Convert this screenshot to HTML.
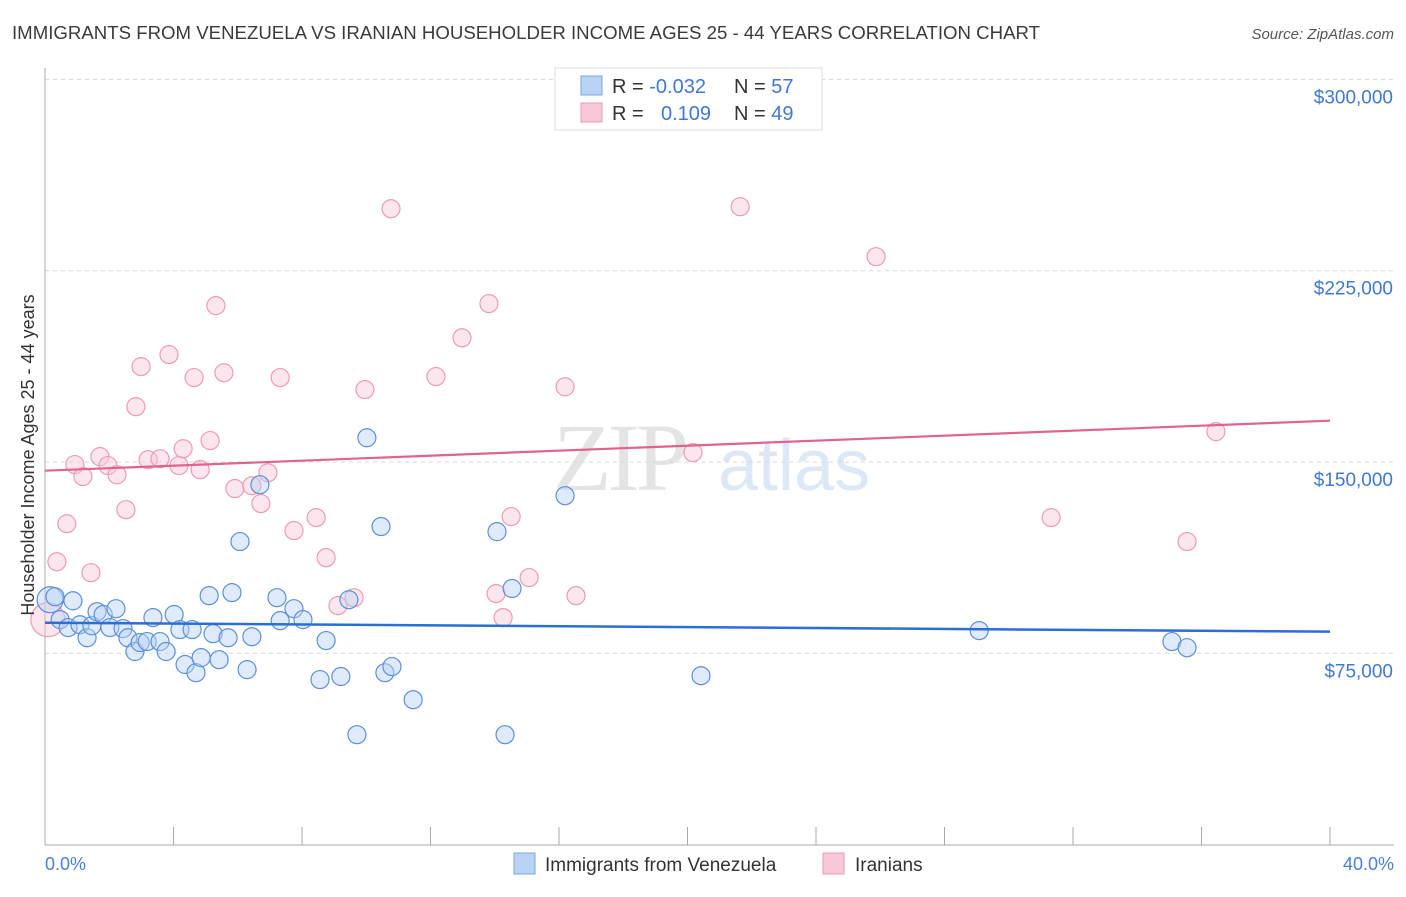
<!DOCTYPE html>
<html><head><meta charset="utf-8"><style>
body{margin:0;background:#fff;font-family:"Liberation Sans",sans-serif;}
</style></head><body>
<svg id="chart" width="1406" height="892" xmlns="http://www.w3.org/2000/svg">
<text x="12" y="39" font-size="18" fill="#3a3a3a" textLength="1028" lengthAdjust="spacingAndGlyphs">IMMIGRANTS FROM VENEZUELA VS IRANIAN HOUSEHOLDER INCOME AGES 25 - 44 YEARS CORRELATION CHART</text>
<text x="1394" y="39" font-size="15" fill="#555" font-style="italic" text-anchor="end">Source: ZipAtlas.com</text>
<g><text x="553" y="490" font-size="96" fill="#e4e4e4" font-family="Liberation Serif,serif" letter-spacing="-4">ZIP</text><text x="718" y="490" font-size="72" fill="#dce8f6">atlas</text></g>
<g id="grid"></g>
<g id="axes"></g>
<g id="marks"></g>
<text transform="translate(34,455) rotate(-90)" font-size="18" fill="#333" text-anchor="middle">Householder Income Ages 25 - 44 years</text>
<text x="45" y="870" font-size="18" fill="#4a7fd6">0.0%</text>
<text x="1394" y="870" font-size="18" fill="#4a7fd6" text-anchor="end">40.0%</text>
<g>
<rect x="555" y="68" width="267" height="62" fill="#fff" stroke="#ddd"/>
<rect x="581" y="76" width="21" height="19" fill="#b9d3f5" stroke="#7aa5e6"/>
<rect x="581" y="103" width="21" height="19" fill="#f9c8d8" stroke="#ee9ab5"/>
<text x="612" y="93" font-size="20" fill="#333">R = <tspan fill="#3f78d4">-0.032</tspan><tspan x="734">N = </tspan><tspan fill="#3f78d4">57</tspan></text>
<text x="612" y="120" font-size="20" fill="#333">R = <tspan x="661" fill="#3f78d4">0.109</tspan><tspan x="734">N = </tspan><tspan fill="#3f78d4">49</tspan></text>
</g>
<g>
<rect x="514" y="853" width="21" height="21" fill="#b9d3f5" stroke="#7aa5e6"/>
<text x="545" y="871" font-size="19" fill="#333">Immigrants from Venezuela</text>
<rect x="823" y="853" width="21" height="21" fill="#f9c8d8" stroke="#ee9ab5"/>
<text x="855" y="871" font-size="19" fill="#333">Iranians</text>
</g>
</svg>
<script>
const yTicks=[75000,150000,225000,300000];
const yTickLabels=["$75,000","$150,000","$225,000","$300,000"];
const xTicks=[0,4,8,12,16,20,24,28,32,36,40];
const blueX=[0.16,0.31,0.47,0.72,0.87,1.09,1.31,1.46,1.62,1.81,2.02,2.21,2.43,2.58,2.80,2.96,3.18,3.36,3.58,3.77,4.02,4.20,4.36,4.58,4.70,4.86,5.11,5.23,5.42,5.70,5.82,6.07,6.29,6.44,6.69,7.22,7.32,7.75,8.03,8.56,8.75,9.21,9.46,9.71,10.02,10.46,10.58,10.80,11.46,14.07,14.32,14.54,16.19,20.42,29.08,35.08,35.55];
const blueY=[96.0,97.2,88.2,85.1,95.6,86.2,81.1,85.8,91.3,90.2,85.1,92.5,84.7,81.1,75.7,79.2,79.6,89.0,79.6,75.7,90.2,84.3,70.6,84.3,67.4,73.3,97.6,82.7,72.5,81.1,98.8,118.8,68.6,81.5,141.1,96.8,87.8,92.5,88.2,64.7,80.0,65.9,96.0,43.1,159.5,124.7,67.4,69.8,56.8,122.7,43.1,100.4,136.8,66.2,83.9,79.6,77.2];
const pinkX=[0.09,0.37,0.68,0.93,1.18,1.43,1.71,1.96,2.24,2.52,2.83,2.99,3.21,3.58,3.86,4.17,4.30,4.64,4.83,5.14,5.32,5.57,5.91,6.44,6.72,6.94,7.32,7.75,8.44,8.75,9.12,9.62,9.96,10.77,12.17,12.98,13.82,14.04,14.26,14.51,15.07,16.19,16.53,20.17,21.64,25.87,31.32,35.55,36.45];
const pinkY=[88.2,110.9,125.8,149.0,144.3,106.6,152.1,148.6,145.0,131.3,171.7,187.4,150.9,151.3,192.1,148.6,155.2,183.1,147.0,158.4,211.3,185.0,139.6,140.7,133.7,145.8,183.1,123.1,128.2,112.5,93.7,96.8,178.4,249.3,183.5,198.7,212.1,98.4,89.0,128.6,104.7,179.5,97.6,153.7,250.1,230.5,128.2,118.8,161.9];
const blueTrend=[87.0,83.5];
const pinkTrend=[146.6,166.2];
const NS="http://www.w3.org/2000/svg";
const X=v=>45+v/40*1285;
const Y=k=>844.6-k/75*191.3;
function mk(t,a,p){const e=document.createElementNS(NS,t);for(const k in a)e.setAttribute(k,a[k]);p.appendChild(e);return e;}
const grid=document.getElementById('grid'),axes=document.getElementById('axes'),marks=document.getElementById('marks');
yTicks.forEach((v,i)=>{
  const l=mk('line',{x1:45,x2:1394,y1:Y(v/1000),y2:Y(v/1000),stroke:'#d8d8d8','stroke-dasharray':'4,4'},grid);
  
  
  const t=mk('text',{x:1393,y:Y(v/1000)+24,'font-size':19,fill:'#3f78d4','text-anchor':'end'},axes);
  t.textContent=yTickLabels[i];
  
  
});
const ax=mk('line',{x1:45,x2:45,y1:68,y2:845,stroke:'#aaa'},axes);


const bx=mk('line',{x1:45,x2:1394,y1:845,y2:845,stroke:'#aaa'},axes);


xTicks.forEach(v=>{
  const t=mk('line',{x1:X(v),x2:X(v),y1:827,y2:845,stroke:'#aaa'},axes);
  
  
});
function dots(xs,ys,fill,stroke,name){
  xs.forEach((x,i)=>{
    let r=9;
    if(i===0) r = name==='pink-point'?17:13;
    const c=mk('circle',{cx:X(x),cy:Y(ys[i]),r:r,fill:fill,'fill-opacity':0.45,stroke:stroke,'stroke-width':1.2},marks);
    
    
  });
}
dots(pinkX,pinkY,'#f9c8d8','#ee9ab5','pink-point');
dots(blueX,blueY,'#b9d3f5','#5b8fde','blue-point');
const pl=mk('line',{x1:X(0),x2:X(40),y1:Y(pinkTrend[0]),y2:Y(pinkTrend[1]),stroke:'#e2628f','stroke-width':2.2},marks);


const bl=mk('line',{x1:X(0),x2:X(40),y1:Y(blueTrend[0]),y2:Y(blueTrend[1]),stroke:'#2a6fd6','stroke-width':2.5},marks);


</script>
</body></html>
